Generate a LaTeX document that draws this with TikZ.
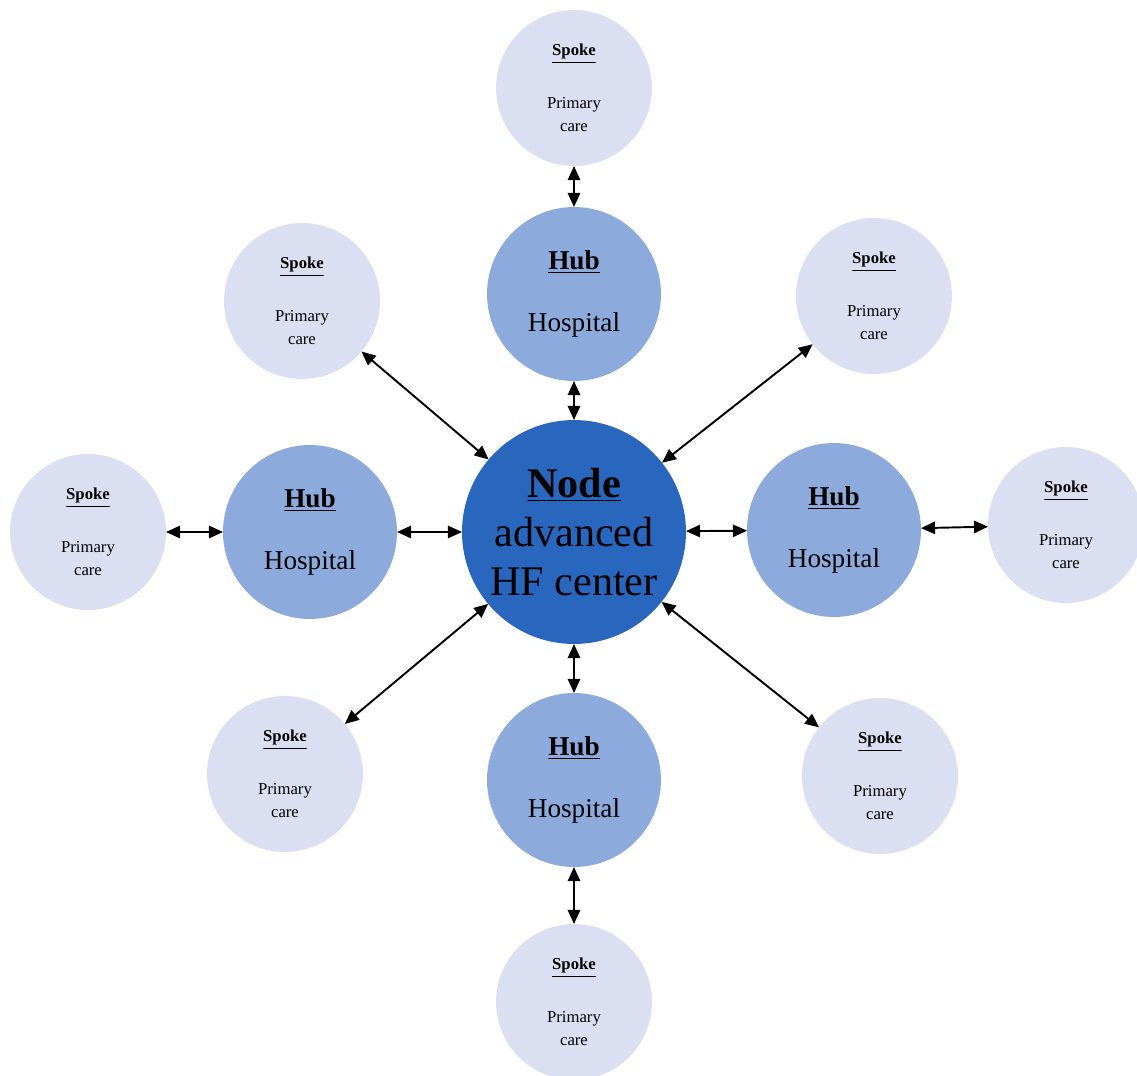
\documentclass[tikz,border=0pt]{standalone}
\usepackage{fontspec}
\setmainfont{Liberation Serif}
\usepackage{xcolor}
\usetikzlibrary{positioning, arrows.meta}

\definecolor{nodeblue}{RGB}{41,102,190}
\definecolor{hubblue}{RGB}{141,170,221}
\definecolor{spokeblue}{RGB}{218,224,242}

\begin{document}
\begin{tikzpicture}[
    x=0.02cm, y=-0.02cm,
    centre/.style={
        circle,
        fill=nodeblue,
        inner sep=0pt,
        outer sep=0pt,
        minimum size=4.48cm,
        align=center,
        font=\fontsize{24}{28}\selectfont
    },
    hub/.style={
        circle,
        fill=hubblue,
        inner sep=0pt,
        outer sep=0pt,
        minimum size=3.48cm,
        align=center,
        font=\fontsize{15.5}{19}\selectfont
    },
    spoke/.style={
        circle,
        fill=spokeblue,
        inner sep=0pt,
        outer sep=0pt,
        minimum size=3.12cm,
        align=center,
        font=\fontsize{9.5}{13}\selectfont
    },
    link/.style={{Triangle[length=8pt,width=7pt]}-{Triangle[length=8pt,width=7pt]}, line width=1.1pt}
]
\useasboundingbox (0,0) rectangle (1137,1076);

\node[centre] (hf) at (574,532) {\underline{\textbf{Node}}\\advanced\\HF center};

\node[hub] (hubN) at (574,294) {\underline{\textbf{Hub}}\\[16pt]Hospital};
\node[hub] (hubS) at (574,780) {\underline{\textbf{Hub}}\\[16pt]Hospital};
\node[hub] (hubW) at (310,532) {\underline{\textbf{Hub}}\\[16pt]Hospital};
\node[hub] (hubE) at (834,530) {\underline{\textbf{Hub}}\\[16pt]Hospital};

\node[spoke] (spN)  at (574,88)   {\underline{\textbf{Spoke}}\\[17pt]Primary\\care};
\node[spoke] (spS)  at (574,1002) {\underline{\textbf{Spoke}}\\[17pt]Primary\\care};
\node[spoke] (spW)  at (88,532)   {\underline{\textbf{Spoke}}\\[17pt]Primary\\care};
\node[spoke] (spE)  at (1066,525) {\underline{\textbf{Spoke}}\\[17pt]Primary\\care};
\node[spoke] (spNW) at (302,301)  {\underline{\textbf{Spoke}}\\[17pt]Primary\\care};
\node[spoke] (spNE) at (874,296)  {\underline{\textbf{Spoke}}\\[17pt]Primary\\care};
\node[spoke] (spSW) at (285,774)  {\underline{\textbf{Spoke}}\\[17pt]Primary\\care};
\node[spoke] (spSE) at (880,776)  {\underline{\textbf{Spoke}}\\[17pt]Primary\\care};

% hubs
\draw[link] (hubN) -- (hf);
\draw[link] (hubS) -- (hf);
\draw[link] (hubW) -- (hf);
\draw[link] (hubE) -- (hf);

% spokes via hubs
\draw[link] (spN) -- (hubN);
\draw[link] (spS) -- (hubS);
\draw[link] (spW) -- (hubW);
\draw[link] (spE) -- (hubE);

% direct spokes
\draw[link] (spNW) -- (hf);
\draw[link] (spNE) -- (hf);
\draw[link] (spSW) -- (hf);
\draw[link] (spSE) -- (hf);

\end{tikzpicture}
\end{document}
